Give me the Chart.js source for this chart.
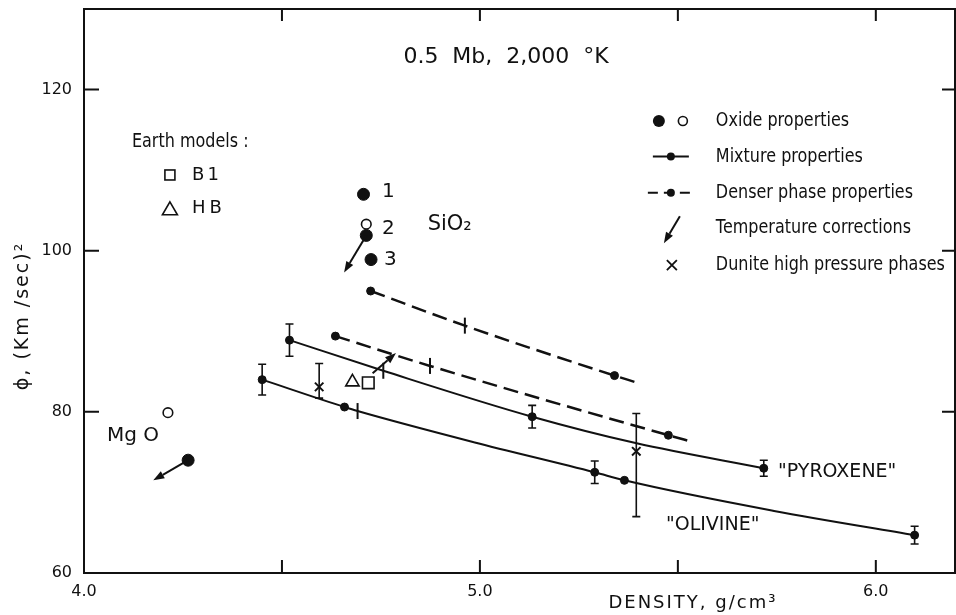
<!DOCTYPE html>
<meta charset="utf-8" />
<title>Seismic parameter vs density at 0.5 Mb</title>
<script src="https://cdn.jsdelivr.net/npm/chart.js@4/dist/chart.umd.min.js"></script>
<style>
body {
	margin: 0;
	background: #fff;
}
.chart {
	position: relative;
	width: 956px;
	height: 615px;
}
</style>

<div class="chart"><canvas id="phi"></canvas></div>

<script>
// axis ticks
const xTickLabels = [4.0, 5.0, 6.0];
const xTickMarks = [4.5, 5.0, 5.5, 6.0];
const yTickLabels = [60, 80, 100, 120];
const yTickMarks = [80, 100, 120];

// mixture properties, "olivine"
const olivineCurveDensity = [4.450, 4.658, 4.691, 4.987, 5.290, 5.365, 5.743, 6.098];
const olivineCurvePhi = [84.0, 80.6, 80.1, 76.2, 72.5, 71.5, 67.7, 64.7];
const olivineDensity = [4.450, 4.658, 5.290, 5.365, 6.098];
const olivinePhi = [84.0, 80.6, 72.5, 71.5, 64.7];
const olivineError = [1.9, 0, 1.4, 0, 1.1];

// mixture properties, "pyroxene"
const pyroxeneCurveDensity = [4.519, 4.756, 5.132, 5.396, 5.717];
const pyroxeneCurvePhi = [88.9, 85.1, 79.4, 76.1, 73.0];
const pyroxeneDensity = [4.519, 5.132, 5.717];
const pyroxenePhi = [88.9, 79.4, 73.0];
const pyroxeneError = [2.0, 1.4, 1.0];

// denser phase properties
const denserUpperDensity = [4.724, 4.962, 5.340, 5.392];
const denserUpperPhi = [95.0, 90.7, 84.5, 83.7];
const denserLowerDensity = [4.635, 4.874, 5.476, 5.535];
const denserLowerPhi = [89.4, 85.7, 77.1, 76.3];
const denserDotDensity = [4.724, 5.340, 4.635, 5.476];
const denserDotPhi = [95.0, 84.5, 89.4, 77.1];

// short marks across the curves
const markDensity = [4.691, 4.756, 4.874, 4.962];
const markPhi = [80.1, 85.1, 85.7, 90.7];

// oxide properties (SiO2 1, 2, 3 and MgO)
const oxideFilledDensity = [4.706, 4.713, 4.725, 4.263];
const oxideFilledPhi = [107.0, 101.9, 98.9, 74.0];
const oxideOpenDensity = [4.713, 4.212];
const oxideOpenPhi = [103.3, 79.9];

// temperature corrections (from -> to)
const tempFromDensity = [4.713, 4.263, 4.729];
const tempFromPhi = [101.9, 74.0, 84.8];
const tempToDensity = [4.657, 4.175, 4.788];
const tempToPhi = [97.3, 71.5, 87.3];

// dunite high pressure phases
const duniteDensity = [4.594, 5.395];
const dunitePhi = [83.1, 75.1];
const duniteLow = [81.7, 67.0];
const duniteHigh = [86.0, 79.8];

// earth models
const b1Density = [4.718];
const b1Phi = [83.6];
const hbDensity = [4.678];
const hbPhi = [83.7];

const ink = '#111';
const face = 'DejaVu Sans';

function pts(xs, ys) {
	return xs.map((x, i) => ({x: x, y: ys[i]}));
}

const curve = (xs, ys, dash) => ({
	type: 'line',
	data: pts(xs, ys),
	borderColor: ink,
	borderWidth: dash ? 2.5 : 2,
	borderDash: dash || [],
	pointRadius: 0,
	cubicInterpolationMode: 'monotone',
	fill: false,
	order: 2,
});

const dots = (xs, ys, extra) => Object.assign({
	data: pts(xs, ys),
	pointRadius: 4,
	pointBackgroundColor: ink,
	pointBorderColor: ink,
	pointBorderWidth: 1,
	showLine: false,
	order: 1,
}, extra);

function text(ctx, str, x, y, opts = {}) {
	ctx.save();
	ctx.font = opts.font || `20px "${face}"`;
	ctx.fillStyle = ink;
	ctx.textBaseline = 'middle';
	ctx.textAlign = opts.align || 'left';
	ctx.letterSpacing = opts.spacing || '0px';
	ctx.translate(x, y);
	if (opts.rotate) ctx.rotate(opts.rotate);
	if (opts.squeeze) ctx.scale(opts.squeeze, 1);
	ctx.fillText(str, 0, 0);
	ctx.restore();
}

function arrow(ctx, x0, y0, x1, y1) {
	const ang = Math.atan2(y1 - y0, x1 - x0);
	const len = 11, half = 4;
	const bx = x1 - Math.cos(ang) * len, by = y1 - Math.sin(ang) * len;
	ctx.lineWidth = 2;
	ctx.beginPath();
	ctx.moveTo(x0, y0);
	ctx.lineTo(bx, by);
	ctx.stroke();
	ctx.beginPath();
	ctx.moveTo(x1, y1);
	ctx.lineTo(bx - Math.sin(ang) * half, by + Math.cos(ang) * half);
	ctx.lineTo(bx + Math.sin(ang) * half, by - Math.cos(ang) * half);
	ctx.closePath();
	ctx.fill();
}

const decorations = {
	id: 'decorations',
	afterDatasetsDraw(chart) {
		const {ctx, chartArea: a, scales: {x, y}} = chart;
		const px = v => x.getPixelForValue(v);
		const py = v => y.getPixelForValue(v);
		ctx.save();
		ctx.strokeStyle = ink;
		ctx.fillStyle = ink;

		// frame with inward ticks
		ctx.lineWidth = 2;
		ctx.strokeRect(a.left, a.top, a.width, a.height);
		ctx.beginPath();
		xTickMarks.forEach(v => {
			const X = px(v);
			ctx.moveTo(X, a.bottom); ctx.lineTo(X, a.bottom - 13);
			ctx.moveTo(X, a.top); ctx.lineTo(X, a.top + 12);
		});
		yTickMarks.forEach(v => {
			const Y = py(v);
			ctx.moveTo(a.left, Y); ctx.lineTo(a.left + 15, Y);
			ctx.moveTo(a.right, Y); ctx.lineTo(a.right - 13, Y);
		});
		ctx.stroke();

		// error bars
		ctx.lineWidth = 1.6;
		chart.data.datasets.forEach((ds, i) => {
			if (!ds.errLow) return;
			chart.getDatasetMeta(i).data.forEach((p, j) => {
				const lo = py(ds.errLow[j]), hi = py(ds.errHigh[j]);
				if (Math.abs(lo - hi) < 1) return;
				ctx.beginPath();
				ctx.moveTo(p.x, lo); ctx.lineTo(p.x, hi);
				ctx.moveTo(p.x - 4, lo); ctx.lineTo(p.x + 4, lo);
				ctx.moveTo(p.x - 4, hi); ctx.lineTo(p.x + 4, hi);
				ctx.stroke();
			});
		});

		// temperature corrections
		tempFromDensity.forEach((d, i) => {
			arrow(ctx, px(d), py(tempFromPhi[i]), px(tempToDensity[i]), py(tempToPhi[i]));
		});

		// labels on the plot
		text(ctx, '0.5  Mb,  2,000  °K', px(5.066), py(124.05), {font: `22px "${face}"`, align: 'center'});
		text(ctx, '1', px(4.753), py(107.3));
		text(ctx, '2', px(4.753), py(102.7));
		text(ctx, '3', px(4.758), py(98.9));
		text(ctx, 'SiO₂', px(4.868), py(103.3), {font: `21px "${face}"`});
		text(ctx, 'Mg O', px(4.058), py(77.0));
		text(ctx, '"PYROXENE"', px(5.753), py(72.5), {font: `19px "${face}"`});
		text(ctx, '"OLIVINE"', px(5.470), py(65.9), {font: `19px "${face}"`});

		// earth models key
		const narrow = {font: `20px "${face}"`, squeeze: 0.8};
		text(ctx, 'Earth models :', px(4.121), py(113.5), narrow);
		ctx.lineWidth = 1.6;
		const kx = px(4.217);
		ctx.strokeRect(kx - 5, py(109.4) - 5, 10, 10);
		const ty = py(105.2);
		ctx.beginPath();
		ctx.moveTo(kx, ty - 7); ctx.lineTo(kx + 7.5, ty + 6); ctx.lineTo(kx - 7.5, ty + 6); ctx.closePath();
		ctx.stroke();
		text(ctx, 'B1', px(4.273), py(109.4), {font: `18px "${face}"`, spacing: '3px'});
		text(ctx, 'HB', px(4.273), py(105.2), {font: `18px "${face}"`, spacing: '4px'});

		// symbol key
		const lx = px(5.596);
		const rows = [116.1, 111.7, 107.2, 102.8, 98.2].map(py);
		const names = ['Oxide properties', 'Mixture properties', 'Denser phase properties',
			'Temperature corrections', 'Dunite high pressure phases'];
		names.forEach((n, i) => text(ctx, n, lx, rows[i], narrow));

		ctx.beginPath();
		ctx.arc(lx - 57, rows[0], 6, 0, 2 * Math.PI);
		ctx.fill();
		ctx.lineWidth = 1.6;
		ctx.beginPath();
		ctx.arc(lx - 33, rows[0], 4.5, 0, 2 * Math.PI);
		ctx.stroke();

		ctx.lineWidth = 2;
		ctx.beginPath();
		ctx.moveTo(lx - 63, rows[1]); ctx.lineTo(lx - 27, rows[1]);
		ctx.stroke();
		ctx.setLineDash([10, 6]);
		ctx.beginPath();
		ctx.moveTo(lx - 68, rows[2]); ctx.lineTo(lx - 22, rows[2]);
		ctx.stroke();
		ctx.setLineDash([]);
		[rows[1], rows[2]].forEach(r => {
			ctx.beginPath();
			ctx.arc(lx - 45, r, 4, 0, 2 * Math.PI);
			ctx.fill();
		});

		arrow(ctx, lx - 36, rows[3] - 12, lx - 52, rows[3] + 15);

		ctx.lineWidth = 1.8;
		ctx.beginPath();
		ctx.moveTo(lx - 49, rows[4] - 5); ctx.lineTo(lx - 39, rows[4] + 5);
		ctx.moveTo(lx - 49, rows[4] + 5); ctx.lineTo(lx - 39, rows[4] - 5);
		ctx.stroke();

		// axis titles
		text(ctx, 'DENSITY, g/cm³', px(5.538), a.bottom + 30, {font: `18px "${face}"`, align: 'center', spacing: '2px'});
		text(ctx, 'ϕ, (Km /sec)²', a.left - 61, py(91.9), {font: `19px "${face}"`, align: 'center', spacing: '2px', rotate: -Math.PI / 2});

		ctx.restore();
	}
};

new Chart(document.getElementById('phi'), {
	type: 'scatter',
	data: {
		datasets: [
			curve(olivineCurveDensity, olivineCurvePhi),
			curve(pyroxeneCurveDensity, pyroxeneCurvePhi),
			curve(denserUpperDensity, denserUpperPhi, [15, 7]),
			curve(denserLowerDensity, denserLowerPhi, [15, 7]),
			dots(olivineDensity, olivinePhi, {
				errLow: olivinePhi.map((v, i) => v - olivineError[i]),
				errHigh: olivinePhi.map((v, i) => v + olivineError[i]),
			}),
			dots(pyroxeneDensity, pyroxenePhi, {
				errLow: pyroxenePhi.map((v, i) => v - pyroxeneError[i]),
				errHigh: pyroxenePhi.map((v, i) => v + pyroxeneError[i]),
			}),
			dots(denserDotDensity, denserDotPhi),
			dots(markDensity, markPhi, {pointStyle: 'line', pointRadius: 8, rotation: 90, pointBorderWidth: 2}),
			dots(oxideFilledDensity, oxideFilledPhi, {pointRadius: 6}),
			dots(oxideOpenDensity, oxideOpenPhi, {pointRadius: 4.8, pointBackgroundColor: '#fff', pointBorderWidth: 1.6}),
			dots(duniteDensity, dunitePhi, {
				pointStyle: 'crossRot', pointRadius: 6, pointBorderWidth: 2,
				errLow: duniteLow, errHigh: duniteHigh,
			}),
			dots(b1Density, b1Phi, {pointStyle: 'rect', pointRadius: 8.2, pointBackgroundColor: '#fff', pointBorderWidth: 1.6}),
			dots(hbDensity, hbPhi, {pointStyle: 'triangle', pointRadius: 7.7, pointBackgroundColor: '#fff', pointBorderWidth: 1.6}),
		]
	},
	options: {
		animation: false,
		responsive: true,
		maintainAspectRatio: false,
		layout: {autoPadding: false, padding: {top: 9, right: 1, left: 0, bottom: 0}},
		plugins: {
			legend: {display: false},
			tooltip: {enabled: false},
		},
		scales: {
			x: {
				type: 'linear',
				min: 4,
				max: 6.2,
				afterBuildTicks: s => { s.ticks = xTickLabels.map(v => ({value: v})); },
				afterFit: s => {
					s.height = 42;
					s.paddingLeft = 0;
					s.paddingRight = 0;
				},
				grid: {display: false, drawTicks: false},
				border: {display: false},
				ticks: {
					padding: 9,
					color: ink,
					font: {family: face, size: 16},
					callback: v => v.toFixed(1),
				},
			},
			y: {
				min: 60,
				max: 130,
				afterBuildTicks: s => { s.ticks = yTickLabels.map(v => ({value: v})); },
				afterFit: s => {
					s.width = 84;
					s.paddingTop = 0;
					s.paddingBottom = 0;
				},
				grid: {display: false, drawTicks: false},
				border: {display: false},
				ticks: {
					padding: 12,
					color: ink,
					font: {family: face, size: 16},
				},
			},
		},
	},
	plugins: [decorations],
});
</script>
